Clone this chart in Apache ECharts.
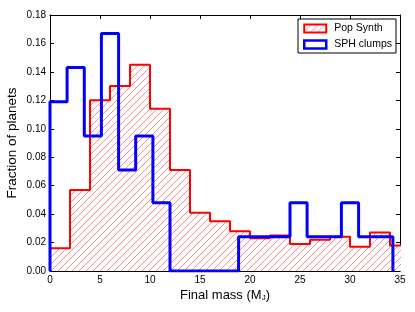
<!DOCTYPE html>
<html>
<head>
<meta charset="utf-8">
<script src="https://cdn.jsdelivr.net/npm/echarts@6/dist/echarts.min.js"></script>
<style>
html,body{margin:0;padding:0;background:#fff;}
#chart{width:415px;height:312px;}
</style>
</head>
<body>
<div id="chart"></div>
<script>
// Pop Synth histogram (bin edges, fractions)
const popEdges = [0,2,4,6,8,10,12,14,16,18,20,22,24,26,28,30,32,34,36];
const popValues = [0.016,0.057,0.120,0.130,0.145,0.114,0.071,0.041,0.035,0.028,0.023,0.025,0.019,0.022,0.024,0.017,0.027,0.018];
// SPH clumps histogram
const sphEdges = [0,1.71,3.43,5.14,6.86,8.57,10.29,12,13.71,15.43,17.14,18.86,20.57,22.29,24,25.71,27.43,29.14,30.86,32.57,34.29];
const sphValues = [0.119,0.143,0.095,0.167,0.071,0.095,0.048,0,0,0,0,0.024,0.024,0.024,0.048,0.024,0.024,0.048,0.024,0.024];
const xTicks = [0,5,10,15,20,25,30,35];
const yTicks = [0,0.02,0.04,0.06,0.08,0.10,0.12,0.14,0.16,0.18];

function outline(edges, vals){
  const pts = [[edges[0],0]];
  for(let i=0;i<vals.length;i++){
    pts.push([edges[i],vals[i]],[edges[i+1],vals[i]]);
  }
  pts.push([edges[edges.length-1],0]);
  return pts;
}

function hatch(){
  const s = 7;
  const c = document.createElement('canvas');
  c.width = s; c.height = s;
  const g = c.getContext('2d');
  g.fillStyle = '#ffffff';
  g.fillRect(0,0,s,s);
  g.strokeStyle = '#ff8c8c';
  g.lineWidth = 1;
  g.beginPath();
  g.moveTo(-1,s+1); g.lineTo(s+1,-1);
  g.moveTo(-1-s,s+1); g.lineTo(1,-1);
  g.moveTo(s-1,2*s+1); g.lineTo(2*s+1,s-1);
  g.stroke();
  return {image:c, repeat:'repeat'};
}
const pat = hatch();

const font = 'Liberation Sans, Arial, sans-serif';
const chart = echarts.init(document.getElementById('chart'), null, {renderer:'canvas'});
const axisCommon = {
  min: 0,
  axisLine:{show:true,onZero:false,lineStyle:{color:'#000',width:1}},
  axisTick:{show:true,inside:true,length:4,lineStyle:{color:'#000'}},
  splitLine:{show:false}
};
chart.setOption({
  animation:false,
  backgroundColor:'#fff',
  grid:{left:50,right:15,top:15,bottom:41,containLabel:false,outerBoundsMode:'none'},
  legend:{
    left:298, top:19,
    orient:'vertical',
    icon:'rect',
    itemWidth:22, itemHeight:8, itemGap:5,
    padding:[4,4,3,5],
    borderColor:'#000', borderWidth:1,
    backgroundColor:'#fff',
    textStyle:{fontFamily:font,fontSize:10.5,color:'#000',padding:[0,0,0,3]},
    data:[
      {name:'Pop Synth', itemStyle:{color:pat,borderColor:'#ff0000',borderWidth:2}},
      {name:'SPH clumps', itemStyle:{color:'#ffffff',borderColor:'#0000ff',borderWidth:2.5}}
    ]
  },
  xAxis:[
    Object.assign({}, axisCommon, {
      type:'value', max:35, interval:5, position:'bottom',
      name:'Final mass (M{sub|J})', nameLocation:'middle', nameGap:17, nameMoveOverlap:false,
      nameTextStyle:{fontFamily:font,fontSize:13,color:'#000',
        rich:{sub:{fontFamily:font,fontSize:8,color:'#000',padding:[6,0,0,0]}}},
      axisLabel:{fontFamily:font,fontSize:10,color:'#000',margin:4,
        customValues:xTicks, formatter:v=>String(v)}
    }),
    Object.assign({}, axisCommon, {
      type:'value', max:35, interval:5, position:'top',
      axisLabel:{show:false}
    })
  ],
  yAxis:[
    Object.assign({}, axisCommon, {
      type:'value', max:0.18, interval:0.02, position:'left',
      name:'Fraction of planets', nameLocation:'middle', nameGap:31, nameMoveOverlap:false,
      nameTextStyle:{fontFamily:font,fontSize:13.5,color:'#000'},
      axisLabel:{fontFamily:font,fontSize:10,color:'#000',margin:4,
        formatter:v=>v.toFixed(2)}
    }),
    Object.assign({}, axisCommon, {
      type:'value', max:0.18, interval:0.02, position:'right',
      axisLabel:{show:false}
    })
  ],
  series:[
    {
      name:'Pop Synth', type:'line', xAxisIndex:0, yAxisIndex:0,
      data: outline(popEdges, popValues),
      showSymbol:false, symbol:'none', clip:true, z:2,
      lineStyle:{color:'#ff0000',width:2},
      itemStyle:{color:'#ff0000'},
      areaStyle:{color:pat,opacity:1,origin:'start'}
    },
    {
      name:'SPH clumps', type:'line', xAxisIndex:0, yAxisIndex:0,
      data: outline(sphEdges, sphValues),
      showSymbol:false, symbol:'none', clip:true, z:3,
      lineStyle:{color:'#0000ff',width:3},
      itemStyle:{color:'#0000ff'}
    }
  ]
});
</script>
</body>
</html>
